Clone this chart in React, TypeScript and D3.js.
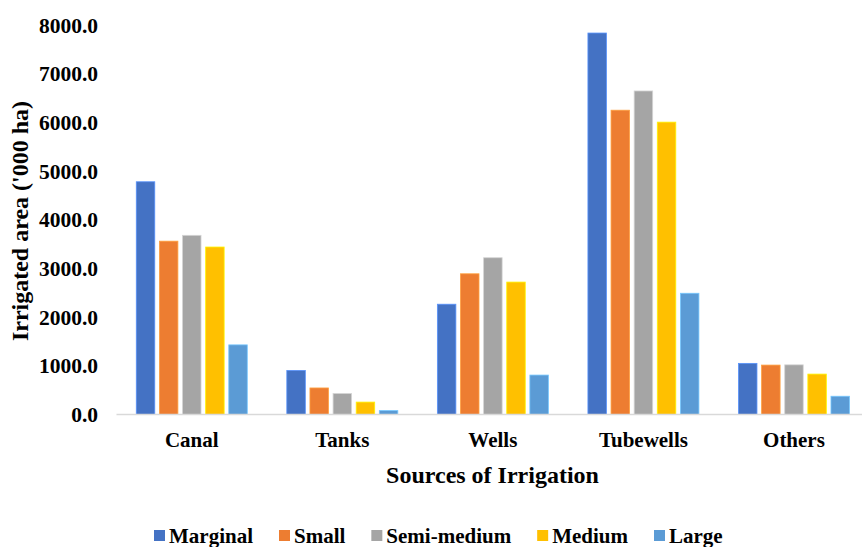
import React, { useEffect, useRef } from "react";
import * as d3 from "d3";

const categories = ["Canal", "Tanks", "Wells", "Tubewells", "Others"];
const seriesNames = ["Marginal", "Small", "Semi-medium", "Medium", "Large"];
const marginal = [4780, 905, 2265, 7835, 1050];
const small = [3560, 545, 2890, 6250, 1015];
const semiMedium = [3680, 430, 3220, 6645, 1020];
const medium = [3440, 255, 2720, 6005, 830];
const large = [1430, 80, 810, 2490, 375];
const yTicks = [0, 1000, 2000, 3000, 4000, 5000, 6000, 7000, 8000];
const colors = ["#4472C4", "#ED7D31", "#A5A5A5", "#FFC000", "#5B9BD5"];

const W = 862;
const H = 547;
const FONT = "Liberation Serif, Times New Roman, Times, DejaVu Serif, serif";

export default function App() {
  const ref = useRef<SVGSVGElement | null>(null);

  useEffect(() => {
    document.body.style.margin = "0";
    const svg = d3.select(ref.current);
    svg.selectAll("*").remove();

    const values = [marginal, small, semiMedium, medium, large];
    const x0 = d3.scaleBand<string>().domain(categories).range([116.5, 869.25]).paddingInner(0).paddingOuter(0);
    const groupW = 111;
    const x1 = d3
      .scaleBand<string>()
      .domain(seriesNames)
      .range([0, groupW])
      .paddingInner(0.2)
      .paddingOuter(0);
    const y = d3.scaleLinear().domain([0, 8000]).range([414.5, 25]);

    const txt = (sel: any, size: number) =>
      sel
        .style("font-family", FONT)
        .style("font-weight", "bold")
        .style("font-size", size + "px")
        .attr("fill", "#000");

    // bars
    const g = svg.append("g");
    categories.forEach((cat, ci) => {
      const gx = (x0(cat) as number) + (x0.bandwidth() - groupW) / 2;
      seriesNames.forEach((s, si) => {
        const v = values[si][ci];
        const c = colors[si];
        g.append("rect")
          .attr("x", gx + (x1(s) as number))
          .attr("y", y(v))
          .attr("width", x1.bandwidth())
          .attr("height", y(0) - y(v))
          .attr("fill", c)
          .attr("stroke", (d3.color(c) as d3.RGBColor).brighter(0.7).formatHex())
          .attr("stroke-width", 0.8);
      });
    });

    // baseline
    svg
      .append("line")
      .attr("x1", 116.5)
      .attr("x2", W)
      .attr("y1", y(0))
      .attr("y2", y(0))
      .attr("stroke", "#D9D9D9")
      .attr("stroke-width", 1.5);

    // y tick labels
    txt(
      svg
        .append("g")
        .selectAll("text")
        .data(yTicks)
        .join("text")
        .attr("x", 98)
        .attr("y", (d: number) => y(d))
        .attr("dy", "0.35em")
        .attr("text-anchor", "end"),
      21.5
    ).text((d: number) => d3.format(".1f")(d));

    // category labels
    txt(
      svg
        .append("g")
        .selectAll("text")
        .data(categories)
        .join("text")
        .attr("x", (d: string) => (x0(d) as number) + x0.bandwidth() / 2)
        .attr("y", 447)
        .attr("text-anchor", "middle"),
      21
    ).text((d: string) => d);

    // x title
    txt(svg.append("text").attr("x", 492.5).attr("y", 482.5).attr("text-anchor", "middle"), 24).text(
      "Sources of Irrigation"
    );

    // y title
    txt(
      svg.append("text").attr("transform", "translate(28,221) rotate(-90)").attr("text-anchor", "middle"),
      24
    ).text("Irrigated area ('000 ha)");

    // legend
    const lg = svg.append("g");
    let lx = 154;
    seriesNames.forEach((s, si) => {
      lg.append("rect")
        .attr("x", lx)
        .attr("y", 530)
        .attr("width", 11)
        .attr("height", 11)
        .attr("fill", colors[si]);
      const t = txt(lg.append("text").attr("x", lx + 15).attr("y", 542.5), 21).text(s);
      const tw = (t.node() as SVGTextElement).getComputedTextLength();
      lx += 15 + tw + 26;
    });
  }, []);

  return (
    <svg
      ref={ref}
      width={W}
      height={H}
      style={{ position: "absolute", left: 0, top: 0, display: "block", background: "#fff" }}
    />
  );
}
